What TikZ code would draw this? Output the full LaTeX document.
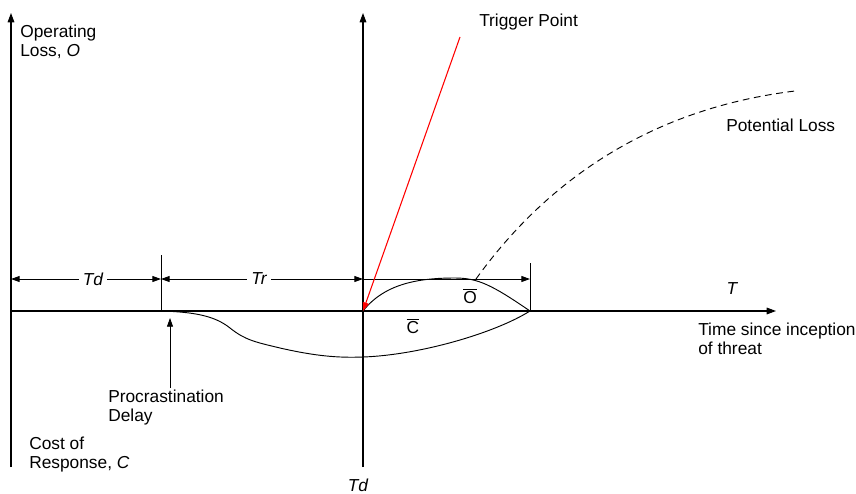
\documentclass[tikz,border=0pt]{standalone}
\usepackage{fontspec}
\setmainfont{Liberation Sans}
\usetikzlibrary{arrows.meta}
\tikzset{
  ax/.style={line width=0.8pt, -{Triangle[length=7pt,width=5pt]}},
  thin/.style={line width=0.6pt},
  tip/.style={-{Triangle[length=6.5pt,width=4.5pt]}},
  dimline/.style={line width=0.7pt},
  lbl/.style={font=\fontsize{13pt}{14.25pt}\selectfont, inner sep=0pt, align=left},
  gap/.style={lbl, fill=white, inner xsep=3pt, inner ysep=1pt},
  curve/.style={line width=0.7pt},
  potential/.style={line width=0.7pt, dash pattern=on 5pt off 3.5pt},
  trig/.style={red, line width=0.8pt, -{Triangle[length=6.5pt,width=4.5pt]}}
}
\begin{document}
\begin{tikzpicture}[x=0.75pt,y=-0.75pt]
\useasboundingbox (0,0) rectangle (856,493);
% key points
\coordinate (Lb) at (11,467);
\coordinate (Lt) at (11,13);
\coordinate (Mb) at (363,467);
\coordinate (Mt) at (363,13);
\coordinate (Xs) at (11,311);
\coordinate (Xe) at (776,311);
\coordinate (P) at (161,311);
\coordinate (Pt) at (161,255);
\coordinate (Z) at (363,311);
\coordinate (R) at (530,311);
\coordinate (Rt) at (530,263);
\coordinate (D0) at (11,279);
\coordinate (D1) at (161,279);
\coordinate (D2) at (363,279);
\coordinate (D3) at (530,279);
\coordinate (Tg) at (460,37);
\coordinate (Pa) at (170,388);
\coordinate (Pb) at (170,318);
\coordinate (Ds) at (476,279);
\coordinate (De) at (795,91);
% axes
\draw[ax] (Lb) -- (Lt);
\draw[ax] (Mb) -- (Mt);
\draw[ax] (Xs) -- (Xe);
% ticks
\draw[thin] (P) -- (Pt);
\draw[thin] (R) -- (Rt);
% dimension lines
\draw[dimline, {Triangle[length=6.5pt,width=4.5pt]}-{Triangle[length=6.5pt,width=4.5pt]}] (D0) -- (D1);
\draw[dimline, {Triangle[length=6.5pt,width=4.5pt]}-{Triangle[length=6.5pt,width=4.5pt]}] (D1) -- (D2);
\draw[dimline, tip] (D2) -- (D3);
\node[gap] (td) at (93,279) {\itshape Td};
\node[gap] (tr) at (259,279) {\itshape Tr};
% cost curve
\draw[curve] (P) .. controls (195,312) and (215,316) .. (230,328)
  .. controls (245,340) and (255,342) .. (280,348)
  .. controls (315,356) and (338,358) .. (363,357)
  .. controls (420,355) and (495,333) .. (R);
% operating loss curve
\draw[curve] (Z) .. controls (385,283) and (420,278) .. (455,278)
  .. controls (478,278) and (492,285) .. (R);
% potential loss
\draw[potential] (Ds) .. controls (540,190) and (640,110) .. (De);
% trigger
\draw[trig] (Tg) -- (Z);
% procrastination arrow
\draw[thin, tip] (Pa) -- (Pb);
% labels
\node[lbl, anchor=west] (ol) at (20,41.5) {Operating\\Loss, \textit{O}};
\node[lbl, anchor=west] (tp) at (479,22) {Trigger Point};
\node[lbl, anchor=west] (pl) at (726,125) {Potential Loss};
\node[lbl] (tt) at (732,289) {\itshape T};
\node[lbl] (ob) at (470,296) {$\overline{\mbox{O}}$};
\node[lbl] (cb) at (413,326) {$\overline{\mbox{C}}$};
\node[lbl, anchor=west] (ts) at (698,338.5) {Time since inception\\of threat};
\node[lbl, anchor=west] (pd) at (108,408) {Procrastination\\Delay};
\node[lbl, anchor=west] (cr) at (29,455) {Cost of\\Response, \textit{C}};
\node[lbl] (tdb) at (358,485) {\itshape Td};
\end{tikzpicture}
\end{document}
